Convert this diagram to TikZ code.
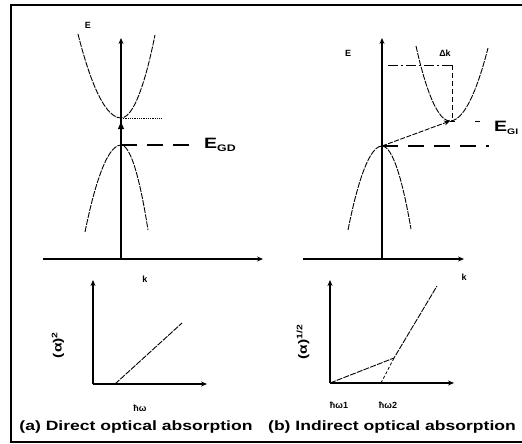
\documentclass[tikz,border=0pt]{standalone}
\usepackage{fontspec}
\setmainfont{Liberation Sans}
\newfontfamily\capfont{Liberation Sans}[FakeStretch=1.3]
\usetikzlibrary{positioning,
                calc,
                arrows.meta}

\begin{document}
\begin{tikzpicture}[x=1pt,y=-1pt]  % <-- pixel units, y down

\tikzset{
axisline/.style={
line width=1.3pt,
-{Stealth[length=6pt,width=5pt]}
},
bandline/.style={
line width=0.9pt,
dash pattern=on 6pt off 1.2pt
},
gapline/.style={
line width=1.2pt,
dash pattern=on 16pt off 10pt
},
smalllabel/.style={
inner sep=0pt,
font=\bfseries\fontsize{9}{10}\selectfont
},
gaplabel/.style={
inner sep=0pt,
font=\capfont\bfseries\fontsize{15}{17}\selectfont
},
ylabel/.style={
inner sep=0pt,
rotate=90,
font=\capfont\bfseries\fontsize{12}{14}\selectfont
},
captionlabel/.style={
inner sep=0pt,
font=\capfont\bfseries\fontsize{13.5}{16}\selectfont
}
}

\useasboundingbox (0,0) rectangle (522,444);

%----------------------------------
% FRAME
%----------------------------------

\draw[line width=1.2pt] (522,5) -- (11,5) -- (11,442) -- (522,442);

%----------------------------------
% (a) DIRECT BANDS
%----------------------------------

\coordinate (aO) at (121,259);
\coordinate (aEtop) at (121,38);
\coordinate (aKleft) at (43,259);
\coordinate (aKend) at (263,259);
\coordinate (aCmin) at (121,118);
\coordinate (aVmax) at (121,145);
\coordinate (aCend) at (162,118);
\coordinate (aGend) at (192,145);

\draw[axisline] (aO) -- (aEtop);
\draw[axisline] (aKleft) -- (aKend);

\draw[bandline] (78,34) parabola bend (aCmin) (155,35);
\draw[bandline] (85,232) parabola bend (aVmax) (148,230);

\draw[line width=1pt,-{Triangle[length=7pt,width=6pt]},shorten >=4pt] (aVmax) -- (aCmin);
\draw[line width=0.8pt,densely dotted] (aCmin) -- (aCend);
\draw[gapline] (aVmax) -- (aGend);

\node[gaplabel,anchor=west] (aGap) at (204,145) {E\raisebox{-3.5pt}{\fontsize{9.5}{10}\selectfont GD}};
\node[smalllabel] (aElab) at (88,25) {E};
\node[smalllabel] (aKlab) at (145,279) {k};

%----------------------------------
% (b) INDIRECT BANDS
%----------------------------------

\coordinate (bO) at (382,259);
\coordinate (bEtop) at (382,38);
\coordinate (bKleft) at (303,259);
\coordinate (bKend) at (464,259);
\coordinate (bCmin) at (450,121);
\coordinate (bVmax) at (382,146);
\coordinate (bCend) at (483,121);
\coordinate (bGend) at (489,146);
\coordinate (bDkleft) at (388,65);
\coordinate (bDkcorner) at (452,65);
\coordinate (bDkfoot) at (452,118);

\draw[axisline] (bO) -- (bEtop);
\draw[axisline] (bKleft) -- (bKend);

\draw[bandline] (416,46) parabola bend (bCmin) (488,48);
\draw[bandline] (348,230) parabola bend (bVmax) (411,229);

\draw[line width=0.9pt,dash pattern=on 5pt off 1.5pt,-{Stealth[length=6pt,width=5pt]}] (bVmax) -- (bCmin);
\draw[line width=1pt,dash pattern=on 5pt off 20pt] (bCmin) -- (bCend);
\draw[gapline] (bVmax) -- (bGend);

\draw[line width=0.9pt,dash pattern=on 10pt off 3pt on 2pt off 3pt] (bDkleft) -- (bDkcorner);
\draw[line width=1pt,dash pattern=on 5pt off 3pt] (bDkcorner) -- (bDkfoot);

\node[smalllabel] (bDk) at (445,53) {Δk};
\node[gaplabel,anchor=west] (bGap) at (494,128) {E\raisebox{-3.5pt}{\fontsize{8}{9}\selectfont GI}};
\node[smalllabel] (bElab) at (348,53) {E};
\node[smalllabel] (bKlab) at (464,277) {k};

%----------------------------------
% (a) ABSORPTION PLOT
%----------------------------------

\coordinate (pO) at (93,384);
\coordinate (pYtop) at (93,280);
\coordinate (pXend) at (207,384);
\coordinate (pOn) at (115,384);
\coordinate (pHi) at (182,323);

\draw[axisline] (pO) -- (pYtop);
\draw[axisline] (pO) -- (pXend);
\draw[bandline] (pOn) -- (pHi);

\node[ylabel] (pYlab) at (58,345) {(α)\textsuperscript{2}};
\node[smalllabel] (pXlab) at (140,408) {ħω};
\node[captionlabel] (pCap) at (136,427) {(a) Direct optical absorption};

%----------------------------------
% (b) ABSORPTION PLOT
%----------------------------------

\coordinate (qO) at (330,383);
\coordinate (qYtop) at (330,280);
\coordinate (qXend) at (454,383);
\coordinate (qOn) at (381,383);
\coordinate (qKnee) at (394,358);
\coordinate (qTop) at (437,286);

\draw[axisline] (qO) -- (qYtop);
\draw[axisline] (qO) -- (qXend);
\draw[bandline] (qO) -- (qKnee) -- (qTop);
\draw[line width=0.8pt,dash pattern=on 3pt off 2pt] (qOn) -- (qKnee);

\node[ylabel] (qYlab) at (303,342) {(α)\textsuperscript{1/2}};
\node[smalllabel] (qW1) at (339,405) {ħω1};
\node[smalllabel] (qW2) at (388,405) {ħω2};
\node[captionlabel] (qCap) at (392,427) {(b) Indirect optical absorption};

\end{tikzpicture}
\end{document}
